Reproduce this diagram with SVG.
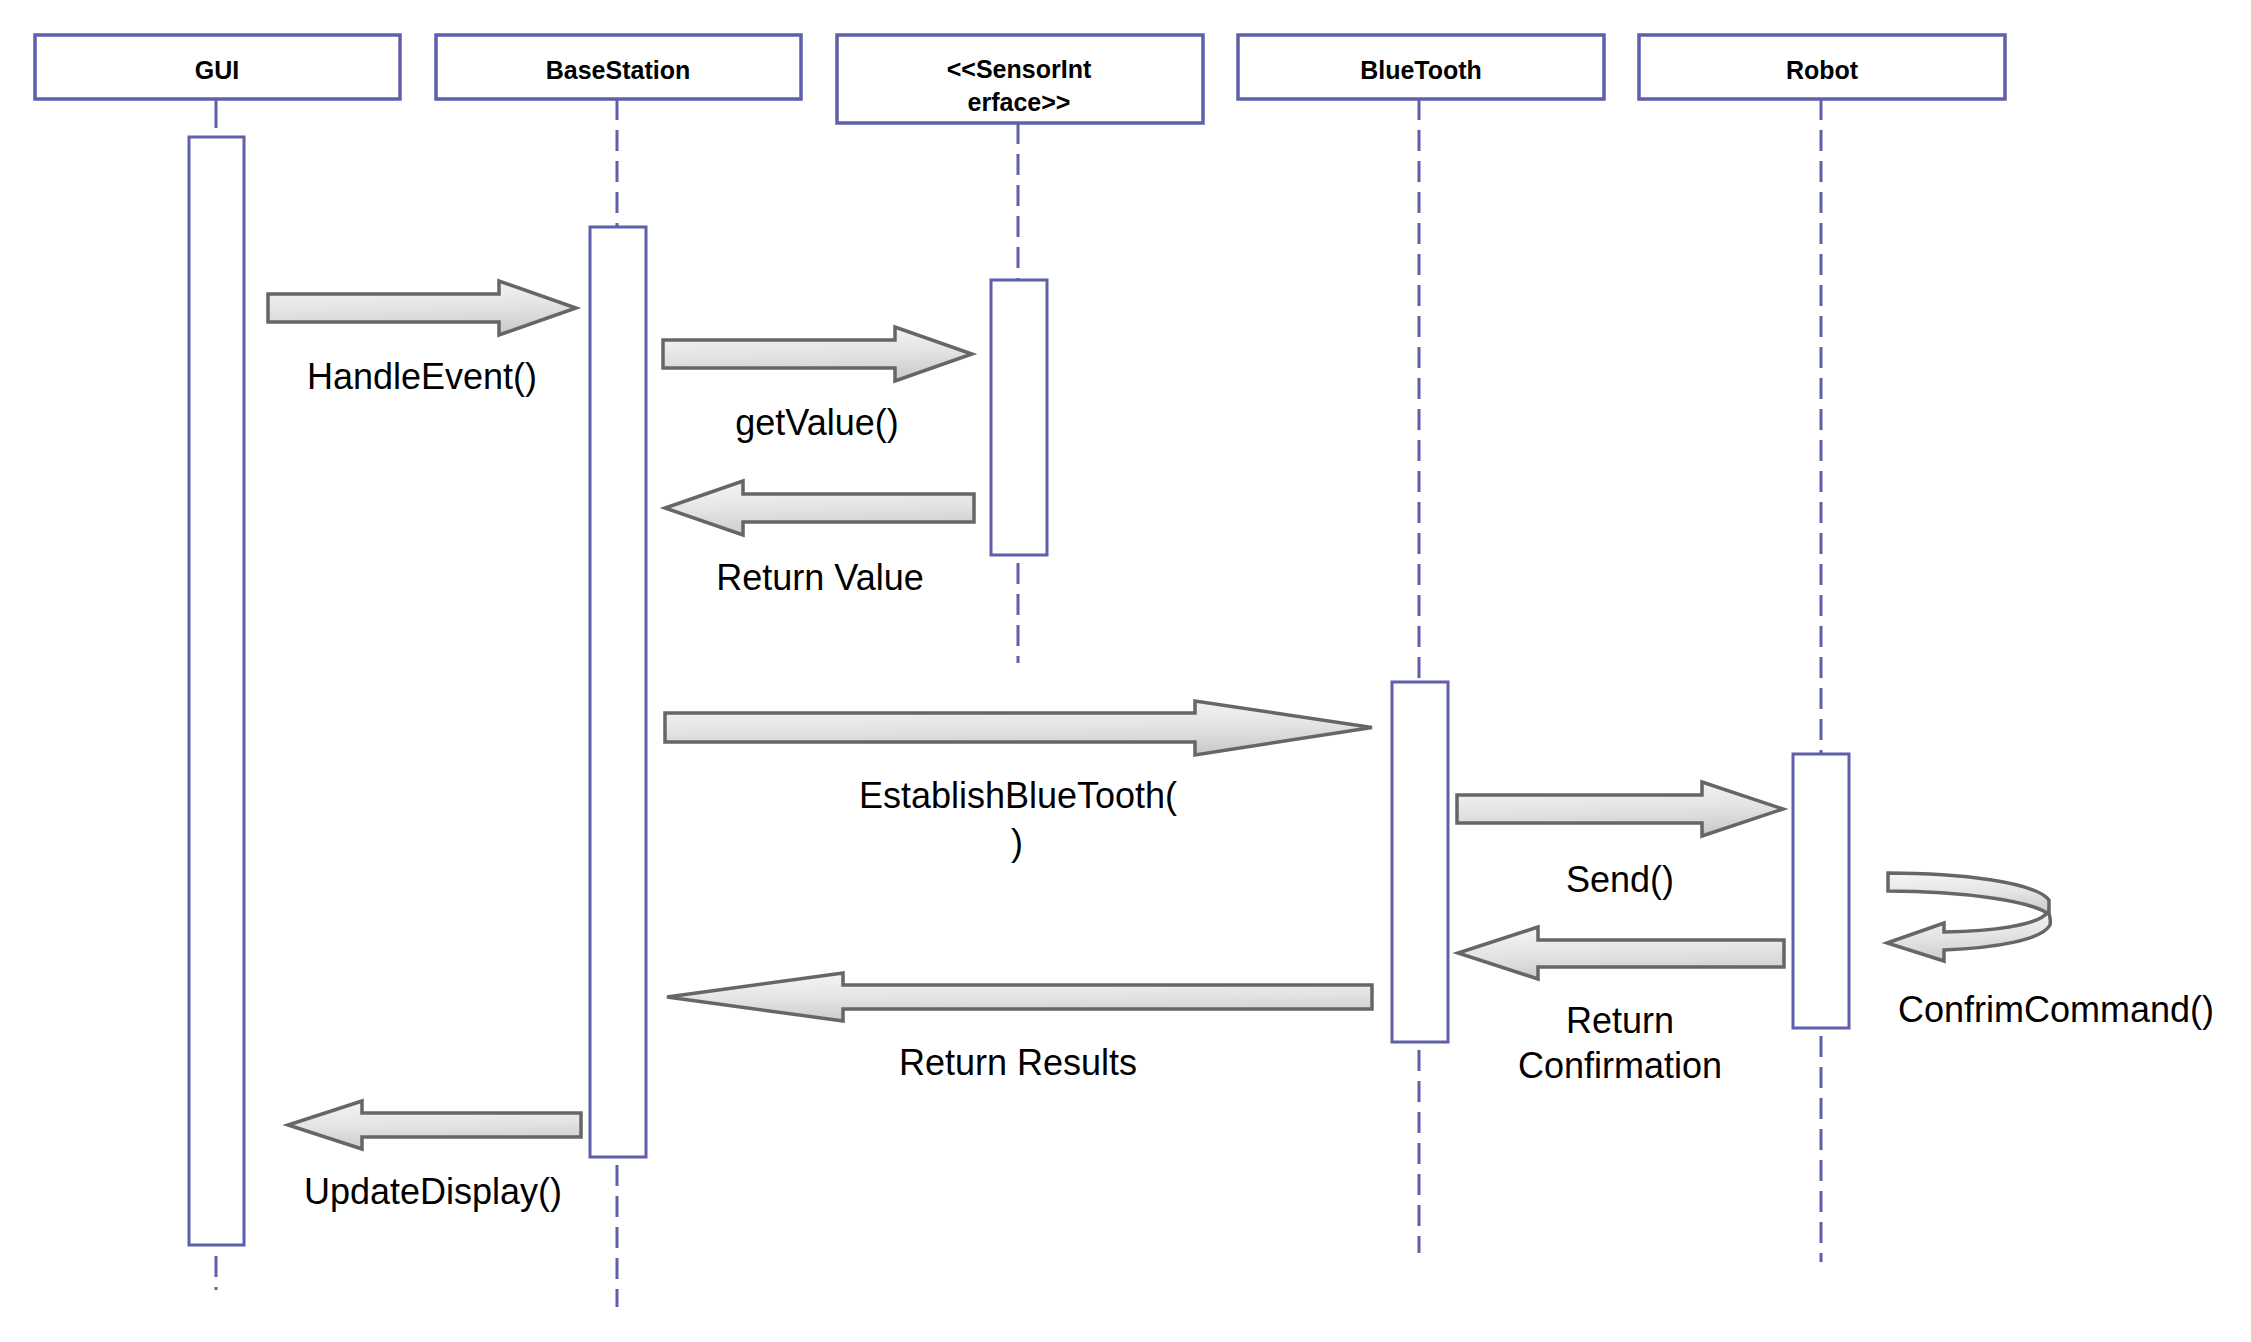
<svg xmlns="http://www.w3.org/2000/svg" width="2251" height="1342" viewBox="0 0 2251 1342">
<defs>
<linearGradient id="g" x1="0" y1="0" x2="0.15" y2="1">
<stop offset="0" stop-color="#f6f6f6"/>
<stop offset="0.55" stop-color="#e4e4e4"/>
<stop offset="1" stop-color="#cdcdcd"/>
</linearGradient>
<style>
.hdr{fill:#fff;stroke:#5f5fab;stroke-width:3.5}
.bar{fill:#fff;stroke:#5f5fab;stroke-width:3}
.life{stroke:#5f5fab;stroke-width:3;stroke-dasharray:21 10;fill:none}
.htxt{font-family:"Liberation Sans",Arial,sans-serif;font-weight:bold;font-size:25px;fill:#000;text-anchor:middle}
.arr{fill:url(#g);stroke:#666;stroke-width:3.5;stroke-linejoin:miter}
.lbl{font-family:"Liberation Sans",Arial,sans-serif;font-size:36px;fill:#000;text-anchor:middle}
</style>
</defs>
<rect width="2251" height="1342" fill="#fff"/>

<g id="GUI">
<line class="life" x1="216" y1="99" x2="216" y2="128" style="stroke-dasharray:none"/>
<line class="life" x1="216" y1="1256" x2="216" y2="1290" stroke-dasharray="21 10"/>
<rect class="hdr" x="35" y="35" width="365" height="64"/>
<text class="htxt" x="217" y="79">GUI</text>
<rect class="bar" x="189" y="137" width="55" height="1108"/>
</g>

<g id="BaseStation">
<line class="life" x1="617" y1="99" x2="617" y2="227"/>
<line class="life" x1="617" y1="1165" x2="617" y2="1307"/>
<rect class="hdr" x="436" y="35" width="365" height="64"/>
<text class="htxt" x="618" y="79">BaseStation</text>
<rect class="bar" x="590" y="227" width="56" height="930"/>
</g>

<g id="SensorInterface">
<line class="life" x1="1018" y1="123" x2="1018" y2="280"/>
<line class="life" x1="1018" y1="563" x2="1018" y2="663"/>
<rect class="hdr" x="837" y="35" width="366" height="88"/>
<text class="htxt" x="1019" y="78">&lt;&lt;SensorInt</text>
<text class="htxt" x="1019" y="111">erface&gt;&gt;</text>
<rect class="bar" x="991" y="280" width="56" height="275"/>
</g>

<g id="BlueTooth">
<line class="life" x1="1419" y1="99" x2="1419" y2="682"/>
<line class="life" x1="1419" y1="1050" x2="1419" y2="1253"/>
<rect class="hdr" x="1238" y="35" width="366" height="64"/>
<text class="htxt" x="1421" y="79">BlueTooth</text>
<rect class="bar" x="1392" y="682" width="56" height="360"/>
</g>

<g id="Robot">
<line class="life" x1="1821" y1="99" x2="1821" y2="754"/>
<line class="life" x1="1821" y1="1036" x2="1821" y2="1262"/>
<rect class="hdr" x="1639" y="35" width="366" height="64"/>
<text class="htxt" x="1822" y="79">Robot</text>
<rect class="bar" x="1793" y="754" width="56" height="274"/>
</g>

<g id="connectors">
<polygon class="arr" points="268,294 499,294 499,281 576,308 499,335 499,322 268,322"/>
<text class="lbl" x="422" y="389">HandleEvent()</text>

<polygon class="arr" points="663,340 895,340 895,327 972,354 895,381 895,368 663,368"/>
<text class="lbl" x="817" y="435">getValue()</text>

<polygon class="arr" points="974,494 743,494 743,481 665,508 743,535 743,522 974,522"/>
<text class="lbl" x="820" y="590">Return Value</text>

<polygon class="arr" points="665,713 1195,713 1195,701 1372,727.5 1195,755 1195,742 665,742"/>
<text class="lbl" x="1018" y="808">EstablishBlueTooth(</text>
<text class="lbl" x="1017" y="855">)</text>

<polygon class="arr" points="1372,985 843,985 843,973 667,997 843,1021 843,1009 1372,1009"/>
<text class="lbl" x="1018" y="1075">Return Results</text>

<polygon class="arr" points="1457,795 1702,795 1702,782 1783,809 1702,836 1702,823 1457,823"/>
<text class="lbl" x="1620" y="892">Send()</text>

<polygon class="arr" points="1784,940 1538,940 1538,927 1458,953 1538,979 1538,967 1784,967"/>
<text class="lbl" x="1620" y="1033">Return</text>
<text class="lbl" x="1620" y="1078">Confirmation</text>

<path class="arr" d="M1888,873 C1960,873 2035,882 2049,900 L2049,915 C2035,901 1960,891 1888,891 Z"/>
<path class="arr" d="M2048,912 C2038,926 1990,931 1944,932 L1944,923 L1887,943 L1944,961 L1944,950 C1995,948 2042,940 2050,925 C2051,919 2050,915 2048,912 Z"/>
<text class="lbl" x="2056" y="1022">ConfrimCommand()</text>

<polygon class="arr" points="581,1113 362,1113 362,1101 288,1125 362,1149 362,1137 581,1137"/>
<text class="lbl" x="433" y="1204">UpdateDisplay()</text>
</g>
</svg>
